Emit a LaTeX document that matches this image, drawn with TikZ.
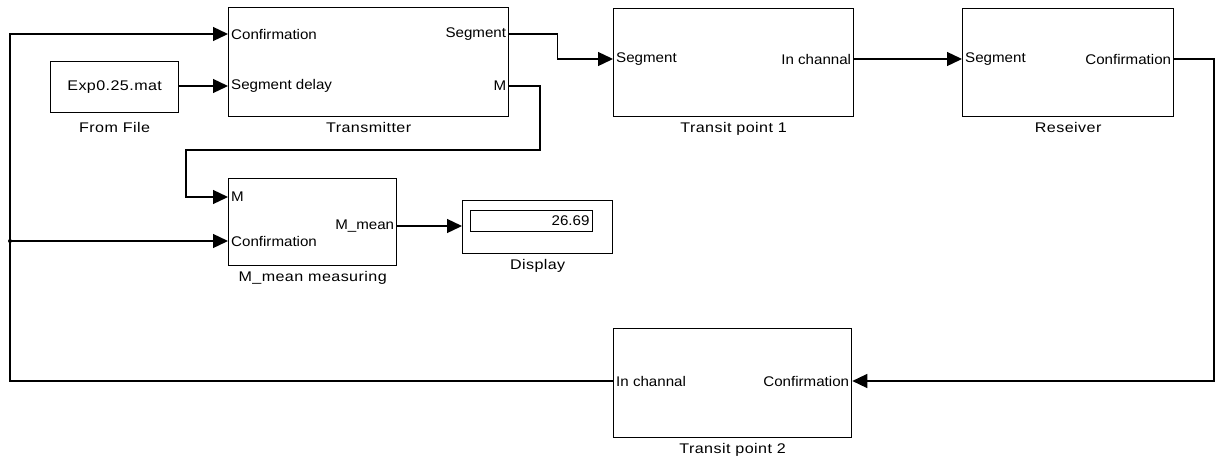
\documentclass[tikz,border=0pt]{standalone}
\usepackage{fontspec}
\setmainfont{Liberation Sans}
\newfontfamily\portfont[FakeStretch=1.08]{Liberation Sans}
\newfontfamily\capfont[FakeStretch=1.15,LetterSpace=3]{Liberation Sans}
\usetikzlibrary{arrows.meta,positioning}
\tikzset{
  blk/.style={draw, line width=1.3pt, anchor=north west, inner sep=0pt},
  port/.style={font=\portfont\fontsize{14}{14}\selectfont, inner sep=3pt},
  captxt/.style={font=\capfont\fontsize{14}{14}\selectfont, inner sep=1pt},
  sig/.style={line width=1.3pt, -{Triangle[length=15pt,width=14pt]}},
}
\begin{document}
\begin{tikzpicture}[x=1pt,y=-1pt, label distance=4pt]
\useasboundingbox (0,0) rectangle (1216,461);
\node[blk, minimum width=280pt, minimum height=109pt, label={[captxt]below:Transmitter}] (tx) at (228,7) {};
\node[blk, minimum width=128pt, minimum height=51pt, font=\capfont\fontsize{14}{14}\selectfont, label={[captxt, label distance=8pt]below:From File}] (ff) at (50,61) {Exp0.25.mat};
\node[blk, minimum width=240pt, minimum height=108pt, label={[captxt]below:Transit point 1}] (t1) at (613,8) {};
\node[blk, minimum width=211pt, minimum height=108pt, label={[captxt]below:Reseiver}] (rc) at (962,8) {};
\node[blk, minimum width=168pt, minimum height=87pt, label={[captxt]below:M\_mean measuring}] (mm) at (228,178) {};
\node[blk, minimum width=150pt, minimum height=53pt, label={[captxt]below:Display}] (disp) at (462,200) {};
\node[blk, line width=1pt, minimum width=122pt, minimum height=21pt, text width=116pt, align=right, font=\portfont\fontsize{14}{14}\selectfont] (dval) at (470,210) {26.69};
\node[blk, minimum width=238pt, minimum height=109pt, label={[captxt]below:Transit point 2}] (t2) at (613,328) {};

\node[port, anchor=west] (txconf) at (tx.west |- 0,34) {Confirmation};
\node[port, anchor=west] (txdel) at (tx.west |- 0,86) {Segment delay};
\node[port, anchor=east] (txseg) at (tx.east |- 0,34) {Segment};
\node[port, anchor=east] (txm) at (tx.east |- 0,86) {M};
\node[port, anchor=west] (t1seg) at (t1.west |- 0,59) {Segment};
\node[port, anchor=east] (t1out) at (t1.east |- 0,59) {In channal};
\node[port, anchor=west] (rcseg) at (rc.west |- 0,59) {Segment};
\node[port, anchor=east] (rcconf) at (rc.east |- 0,59) {Confirmation};
\node[port, anchor=west] (mmm) at (mm.west |- 0,197) {M};
\node[port, anchor=west] (mmconf) at (mm.west |- 0,241) {Confirmation};
\node[port, anchor=east] (mmout) at (mm.east |- 0,226) {M\_mean};
\node[port, anchor=west] (t2in) at (t2.west |- 0,381) {In channal};
\node[port, anchor=east] (t2conf) at (t2.east |- 0,381) {Confirmation};

\coordinate (jn) at (10,241);
\coordinate (rcorner) at (1214,381);
\coordinate (mcorner) at (540,150);
\coordinate (mleft) at (186,150);

\draw[sig] (t2.west |- t2in) -| (jn) |- (tx.west |- txconf);
\draw[sig] (jn) -- (mm.west |- mmconf);
\fill (jn) circle (2pt);
\draw[sig] (ff.east |- txdel) -- (tx.west |- txdel);
\draw[sig] (tx.east |- txseg) -- ++(48,0) |- (t1.west |- t1seg);
\draw[sig] (t1.east |- t1out) -- (rc.west |- rcseg);
\draw[sig] (rc.east |- rcconf) -| (rcorner) -- (t2.east |- t2conf);
\draw[sig] (tx.east |- txm) -| (mcorner) -- (mleft) |- (mm.west |- mmm);
\draw[sig] (mm.east |- mmout) -- (disp.west |- mmout);
\end{tikzpicture}
\end{document}
